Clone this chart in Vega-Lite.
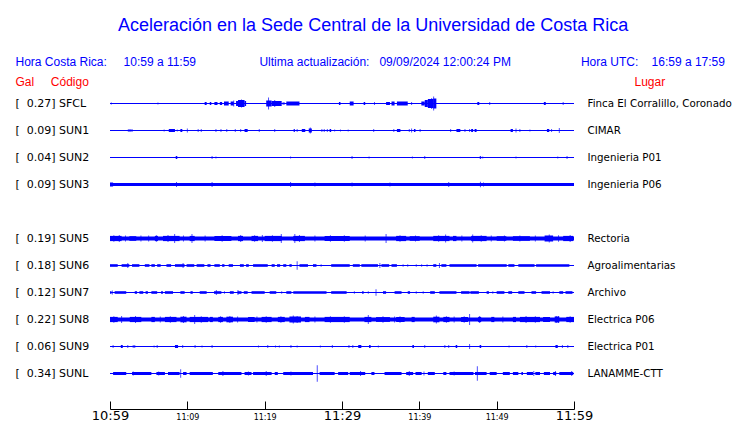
{
  "$schema": "https://vega.github.io/schema/vega-lite/v6.json",
  "autosize": "none",
  "padding": {"left": 110, "top": 90, "right": 166, "bottom": 36},
  "width": 464,
  "height": 297,
  "background": "white",
  "title": {
    "text": "Aceleración en la Sede Central de la Universidad de Costa Rica",
    "font": "Liberation Sans", "fontSize": 18, "fontWeight": "normal", "color": "#0000ff",
    "anchor": "middle", "frame": "bounds", "offset": 20
  },
  "config": {"view": {"stroke": null}},
  "datasets": {
    "seg": [
      {"s":"SFCL","t0":0,"t1":60,"a":0.5},
      {"s":"SUN1","t0":0,"t1":60,"a":0.5},
      {"s":"SUN2","t0":0,"t1":60,"a":0.5},
      {"s":"SUN3","t0":0,"t1":60,"a":1.5},
      {"s":"SUN5","t0":0,"t1":60,"a":2},
      {"s":"SUN6","t0":0,"t1":60,"a":0.5},
      {"s":"SUN7","t0":0,"t1":60,"a":0.5},
      {"s":"SUN8","t0":0,"t1":60,"a":2},
      {"s":"SUN9","t0":0,"t1":60,"a":0.5},
      {"s":"SUNL","t0":0,"t1":60,"a":0.5},

      {"s":"SFCL","t0":12.24,"t1":12.5,"a":1.5},
      {"s":"SFCL","t0":12.9,"t1":13.1,"a":1.5},
      {"s":"SFCL","t0":13.5,"t1":13.9,"a":1.5},
      {"s":"SFCL","t0":14.2,"t1":14.5,"a":1.5},
      {"s":"SFCL","t0":14.74,"t1":15.35,"a":2},
      {"s":"SFCL","t0":15.6,"t1":16.0,"a":2},
      {"s":"SFCL","t0":16.3,"t1":16.55,"a":2.5},
      {"s":"SFCL","t0":16.55,"t1":17.4,"a":3.5},
      {"s":"SFCL","t0":17.4,"t1":17.6,"a":2.5},
      {"s":"SFCL","t0":20.2,"t1":20.9,"a":3},
      {"s":"SFCL","t0":20.9,"t1":22.2,"a":2.5},
      {"s":"SFCL","t0":22.3,"t1":22.6,"a":1},
      {"s":"SFCL","t0":22.8,"t1":24.5,"a":2},
      {"s":"SFCL","t0":29.6,"t1":29.8,"a":1.5},
      {"s":"SFCL","t0":31.0,"t1":31.5,"a":2},
      {"s":"SFCL","t0":32.8,"t1":33.0,"a":1.5},
      {"s":"SFCL","t0":35.7,"t1":36.2,"a":1.5},
      {"s":"SFCL","t0":36.4,"t1":36.8,"a":2},
      {"s":"SFCL","t0":37.1,"t1":38.5,"a":2},
      {"s":"SFCL","t0":40.26,"t1":40.7,"a":2},
      {"s":"SFCL","t0":40.7,"t1":41.1,"a":3.5},
      {"s":"SFCL","t0":41.1,"t1":41.8,"a":4.5},
      {"s":"SFCL","t0":41.8,"t1":42.2,"a":5},
      {"s":"SFCL","t0":47.5,"t1":47.75,"a":1.5},
      {"s":"SFCL","t0":56.1,"t1":56.35,"a":1.5},

      {"s":"SUN1","t0":2.3,"t1":2.75,"a":1},
      {"s":"SUN1","t0":7.6,"t1":8.4,"a":1.5},
      {"s":"SUN1","t0":9.1,"t1":9.35,"a":1.5},
      {"s":"SUN1","t0":17.4,"t1":17.8,"a":1.5},
      {"s":"SUN1","t0":23.75,"t1":23.9,"a":1.5},
      {"s":"SUN1","t0":24.8,"t1":25.25,"a":1.5},
      {"s":"SUN1","t0":25.7,"t1":26.1,"a":2},
      {"s":"SUN1","t0":28.4,"t1":28.6,"a":1.5},
      {"s":"SUN1","t0":37.1,"t1":37.55,"a":1.5},
      {"s":"SUN1","t0":39.3,"t1":39.5,"a":1.5},
      {"s":"SUN1","t0":44.8,"t1":45.3,"a":1.5},
      {"s":"SUN1","t0":46.7,"t1":46.95,"a":1.5},
      {"s":"SUN1","t0":47.15,"t1":47.4,"a":1.5},
      {"s":"SUN1","t0":51.8,"t1":52.1,"a":1.5},
      {"s":"SUN1","t0":56.5,"t1":56.8,"a":1.5},

      {"s":"SUN2","t0":8.5,"t1":8.7,"a":1.5},
      {"s":"SUN2","t0":47.8,"t1":48.0,"a":1},

      {"s":"SUN3","t0":0,"t1":0.4,"a":2},

      {"s":"SUN5","t0":0,"t1":1.5,"a":2.6},
      {"s":"SUN5","t0":2.5,"t1":3.4,"a":2.3},
      {"s":"SUN5","t0":5.8,"t1":6.2,"a":2.6},
      {"s":"SUN5","t0":6.85,"t1":9.0,"a":2.6},
      {"s":"SUN5","t0":10.3,"t1":10.95,"a":2.6},
      {"s":"SUN5","t0":13.5,"t1":15.7,"a":2.5},
      {"s":"SUN5","t0":16.55,"t1":17.2,"a":2.6},
      {"s":"SUN5","t0":18.3,"t1":19.15,"a":2.6},
      {"s":"SUN5","t0":20.0,"t1":22.2,"a":2.6},
      {"s":"SUN5","t0":23.7,"t1":25.2,"a":2.6},
      {"s":"SUN5","t0":27.75,"t1":31.0,"a":2.5},
      {"s":"SUN5","t0":37.0,"t1":38.3,"a":2.6},
      {"s":"SUN5","t0":38.75,"t1":40.05,"a":2.3},
      {"s":"SUN5","t0":41.8,"t1":43.9,"a":2.6},
      {"s":"SUN5","t0":44.35,"t1":44.8,"a":2.6},
      {"s":"SUN5","t0":46.7,"t1":48.7,"a":2.6},
      {"s":"SUN5","t0":50.0,"t1":51.25,"a":2.3},
      {"s":"SUN5","t0":52.1,"t1":54.3,"a":2.3},
      {"s":"SUN5","t0":56.2,"t1":57.3,"a":3},
      {"s":"SUN5","t0":58.6,"t1":59.9,"a":2.6},

      {"s":"SUN6","t0":0,"t1":1.0,"a":1.3},
      {"s":"SUN6","t0":1.5,"t1":2.5,"a":1.3},
      {"s":"SUN6","t0":2.85,"t1":3.8,"a":1.3},
      {"s":"SUN6","t0":4.5,"t1":5.1,"a":1.3},
      {"s":"SUN6","t0":5.35,"t1":5.8,"a":1.3},
      {"s":"SUN6","t0":6.1,"t1":6.55,"a":1.3},
      {"s":"SUN6","t0":7.3,"t1":7.9,"a":1.3},
      {"s":"SUN6","t0":8.4,"t1":9.65,"a":1.3},
      {"s":"SUN6","t0":9.9,"t1":10.9,"a":1.3},
      {"s":"SUN6","t0":11.2,"t1":12.2,"a":1.3},
      {"s":"SUN6","t0":12.6,"t1":13.0,"a":1.3},
      {"s":"SUN6","t0":13.5,"t1":14.2,"a":1.3},
      {"s":"SUN6","t0":14.5,"t1":14.8,"a":1.3},
      {"s":"SUN6","t0":15.35,"t1":15.9,"a":1.3},
      {"s":"SUN6","t0":16.8,"t1":17.3,"a":1.3},
      {"s":"SUN6","t0":17.6,"t1":17.95,"a":1.3},
      {"s":"SUN6","t0":18.5,"t1":20.4,"a":1.3},
      {"s":"SUN6","t0":20.9,"t1":21.3,"a":1.3},
      {"s":"SUN6","t0":21.6,"t1":22.0,"a":1.3},
      {"s":"SUN6","t0":22.4,"t1":22.8,"a":1.3},
      {"s":"SUN6","t0":23.2,"t1":23.5,"a":1.3},
      {"s":"SUN6","t0":24.5,"t1":25.6,"a":1.3},
      {"s":"SUN6","t0":26.25,"t1":26.7,"a":1.3},
      {"s":"SUN6","t0":28.6,"t1":31.0,"a":1.3},
      {"s":"SUN6","t0":31.4,"t1":32.3,"a":1.3},
      {"s":"SUN6","t0":32.5,"t1":34.65,"a":1.3},
      {"s":"SUN6","t0":35.1,"t1":36.1,"a":1.3},
      {"s":"SUN6","t0":36.4,"t1":37.1,"a":1.3},
      {"s":"SUN6","t0":41.8,"t1":42.2,"a":1.3},
      {"s":"SUN6","t0":42.85,"t1":43.5,"a":1.3},
      {"s":"SUN6","t0":43.9,"t1":47.4,"a":1.3},
      {"s":"SUN6","t0":47.6,"t1":51.3,"a":1.3},
      {"s":"SUN6","t0":51.5,"t1":52.3,"a":1.3},
      {"s":"SUN6","t0":52.8,"t1":54.9,"a":1.3},
      {"s":"SUN6","t0":55.1,"t1":59.4,"a":1.3},

      {"s":"SUN7","t0":0,"t1":0.2,"a":1.3},
      {"s":"SUN7","t0":0.6,"t1":2.1,"a":1.3},
      {"s":"SUN7","t0":3.2,"t1":3.5,"a":1.3},
      {"s":"SUN7","t0":3.8,"t1":4.3,"a":1.3},
      {"s":"SUN7","t0":4.6,"t1":4.9,"a":1.3},
      {"s":"SUN7","t0":5.35,"t1":6.1,"a":1.3},
      {"s":"SUN7","t0":6.6,"t1":6.85,"a":1.3},
      {"s":"SUN7","t0":7.1,"t1":8.15,"a":1.3},
      {"s":"SUN7","t0":9.1,"t1":9.65,"a":1.3},
      {"s":"SUN7","t0":10.4,"t1":10.7,"a":1.3},
      {"s":"SUN7","t0":11.6,"t1":12.5,"a":1.3},
      {"s":"SUN7","t0":13.45,"t1":14.4,"a":1.3},
      {"s":"SUN7","t0":15.5,"t1":16.0,"a":1.3},
      {"s":"SUN7","t0":16.5,"t1":17.0,"a":1.3},
      {"s":"SUN7","t0":17.3,"t1":17.8,"a":1.3},
      {"s":"SUN7","t0":18.3,"t1":20.0,"a":1.3},
      {"s":"SUN7","t0":20.65,"t1":21.5,"a":1.3},
      {"s":"SUN7","t0":22.8,"t1":23.45,"a":1.3},
      {"s":"SUN7","t0":23.7,"t1":28.0,"a":1.3},
      {"s":"SUN7","t0":28.6,"t1":30.6,"a":1.3},
      {"s":"SUN7","t0":32.6,"t1":32.8,"a":1.3},
      {"s":"SUN7","t0":35.3,"t1":35.7,"a":1.3},
      {"s":"SUN7","t0":36.8,"t1":37.7,"a":1.3},
      {"s":"SUN7","t0":38.5,"t1":38.8,"a":1.3},
      {"s":"SUN7","t0":41.4,"t1":42.0,"a":1.3},
      {"s":"SUN7","t0":42.6,"t1":44.8,"a":1.3},
      {"s":"SUN7","t0":45.4,"t1":46.5,"a":1.3},
      {"s":"SUN7","t0":46.6,"t1":47.7,"a":1.3},
      {"s":"SUN7","t0":48.7,"t1":49.0,"a":1.3},
      {"s":"SUN7","t0":50.0,"t1":51.0,"a":1.3},
      {"s":"SUN7","t0":51.5,"t1":52.0,"a":1.3},
      {"s":"SUN7","t0":52.8,"t1":53.6,"a":1.3},
      {"s":"SUN7","t0":54.5,"t1":55.1,"a":1.3},
      {"s":"SUN7","t0":55.8,"t1":56.9,"a":1.3},
      {"s":"SUN7","t0":58.1,"t1":58.6,"a":1.3},
      {"s":"SUN7","t0":58.9,"t1":59.8,"a":1.3},

      {"s":"SUN8","t0":0,"t1":1.0,"a":2.6},
      {"s":"SUN8","t0":2.55,"t1":4.05,"a":2.6},
      {"s":"SUN8","t0":5.35,"t1":5.8,"a":2.6},
      {"s":"SUN8","t0":7.1,"t1":8.6,"a":2.6},
      {"s":"SUN8","t0":9.1,"t1":9.9,"a":2.8},
      {"s":"SUN8","t0":10.3,"t1":12.7,"a":2.6},
      {"s":"SUN8","t0":12.9,"t1":13.3,"a":2.6},
      {"s":"SUN8","t0":14.0,"t1":14.6,"a":2.6},
      {"s":"SUN8","t0":15.05,"t1":15.9,"a":2.8},
      {"s":"SUN8","t0":17.85,"t1":18.7,"a":2.5},
      {"s":"SUN8","t0":19.6,"t1":20.9,"a":2.6},
      {"s":"SUN8","t0":21.7,"t1":22.6,"a":2.6},
      {"s":"SUN8","t0":23.2,"t1":24.7,"a":3},
      {"s":"SUN8","t0":25.2,"t1":25.8,"a":2.6},
      {"s":"SUN8","t0":27.75,"t1":31.0,"a":2.6},
      {"s":"SUN8","t0":32.9,"t1":33.8,"a":2.6},
      {"s":"SUN8","t0":34.4,"t1":36.2,"a":2.4},
      {"s":"SUN8","t0":37.0,"t1":38.1,"a":2.5},
      {"s":"SUN8","t0":39.0,"t1":39.4,"a":2.6},
      {"s":"SUN8","t0":41.8,"t1":42.6,"a":2.8},
      {"s":"SUN8","t0":43.1,"t1":43.9,"a":2.6},
      {"s":"SUN8","t0":45.4,"t1":46.3,"a":2.5},
      {"s":"SUN8","t0":47.6,"t1":48.0,"a":2.6},
      {"s":"SUN8","t0":49.3,"t1":49.7,"a":2.6},
      {"s":"SUN8","t0":52.1,"t1":52.5,"a":2.6},
      {"s":"SUN8","t0":53.0,"t1":55.6,"a":2.6},
      {"s":"SUN8","t0":56.0,"t1":56.9,"a":2.5},
      {"s":"SUN8","t0":57.5,"t1":58.1,"a":3},
      {"s":"SUN8","t0":59.0,"t1":60.0,"a":2.6},

      {"s":"SUN9","t0":1.4,"t1":1.65,"a":1.5},
      {"s":"SUN9","t0":8.4,"t1":8.8,"a":1.5},
      {"s":"SUN9","t0":32.1,"t1":32.5,"a":1.5},
      {"s":"SUN9","t0":33.5,"t1":33.7,"a":1.5},
      {"s":"SUN9","t0":39.1,"t1":39.3,"a":1.5},
      {"s":"SUN9","t0":44.7,"t1":44.9,"a":1.5},
      {"s":"SUN9","t0":47.8,"t1":48.0,"a":1.5},
      {"s":"SUN9","t0":57.6,"t1":57.9,"a":1.5},

      {"s":"SUNL","t0":0.4,"t1":2.1,"a":1.5},
      {"s":"SUNL","t0":2.85,"t1":5.35,"a":1.5},
      {"s":"SUNL","t0":6.0,"t1":7.1,"a":1.5},
      {"s":"SUNL","t0":7.5,"t1":9.0,"a":1.5},
      {"s":"SUNL","t0":9.45,"t1":9.9,"a":1.5},
      {"s":"SUNL","t0":10.3,"t1":13.3,"a":1.5},
      {"s":"SUNL","t0":14.0,"t1":17.0,"a":1.5},
      {"s":"SUNL","t0":17.4,"t1":18.3,"a":1.5},
      {"s":"SUNL","t0":18.5,"t1":20.9,"a":1.5},
      {"s":"SUNL","t0":21.3,"t1":21.7,"a":1.5},
      {"s":"SUNL","t0":22.4,"t1":26.25,"a":1.5},
      {"s":"SUNL","t0":27.1,"t1":29.05,"a":1.5},
      {"s":"SUNL","t0":29.5,"t1":30.8,"a":1.5},
      {"s":"SUNL","t0":31.0,"t1":33.0,"a":1.5},
      {"s":"SUNL","t0":33.8,"t1":34.2,"a":1.5},
      {"s":"SUNL","t0":35.5,"t1":37.7,"a":1.5},
      {"s":"SUNL","t0":38.3,"t1":39.2,"a":1.5},
      {"s":"SUNL","t0":39.5,"t1":40.3,"a":1.5},
      {"s":"SUNL","t0":41.1,"t1":42.0,"a":1.5},
      {"s":"SUNL","t0":43.1,"t1":43.5,"a":1.5},
      {"s":"SUNL","t0":43.9,"t1":47.0,"a":1.5},
      {"s":"SUNL","t0":47.2,"t1":48.7,"a":1.5},
      {"s":"SUNL","t0":49.1,"t1":50.0,"a":1.5},
      {"s":"SUNL","t0":50.8,"t1":51.7,"a":1.5},
      {"s":"SUNL","t0":52.1,"t1":52.8,"a":1.5},
      {"s":"SUNL","t0":53.2,"t1":53.4,"a":1.5},
      {"s":"SUNL","t0":53.9,"t1":54.7,"a":1.5},
      {"s":"SUNL","t0":55.0,"t1":55.6,"a":1.5},
      {"s":"SUNL","t0":56.1,"t1":56.9,"a":1.5},
      {"s":"SUNL","t0":57.3,"t1":57.7,"a":1.5},
      {"s":"SUNL","t0":58.1,"t1":59.9,"a":1.5}
    ],
    "spk": [
      {"s":"SFCL","t":0.17,"a":1},{"s":"SFCL","t":6.2,"a":1},{"s":"SFCL","t":16.0,"a":3},{"s":"SFCL","t":17.0,"a":4},
      {"s":"SFCL","t":20.5,"a":6},{"s":"SFCL","t":21.3,"a":3.5},{"s":"SFCL","t":34.2,"a":1.5},{"s":"SFCL","t":39.0,"a":1.5},
      {"s":"SFCL","t":41.85,"a":7},{"s":"SFCL","t":41.6,"a":5.5},{"s":"SFCL","t":49.1,"a":1.5},{"s":"SFCL","t":58.6,"a":1.5},

      {"s":"SUN1","t":2.85,"a":1.5},{"s":"SUN1","t":7.0,"a":1},{"s":"SUN1","t":8.7,"a":1},{"s":"SUN1","t":10.0,"a":2},
      {"s":"SUN1","t":11.4,"a":1.5},{"s":"SUN1","t":11.8,"a":1.5},{"s":"SUN1","t":13.7,"a":1.5},{"s":"SUN1","t":14.35,"a":1.5},
      {"s":"SUN1","t":15.1,"a":1.5},{"s":"SUN1","t":16.2,"a":1.5},{"s":"SUN1","t":16.9,"a":1.5},{"s":"SUN1","t":19.3,"a":1.5},
      {"s":"SUN1","t":21.3,"a":1.5},{"s":"SUN1","t":24.2,"a":1.5},{"s":"SUN1","t":25.9,"a":3},{"s":"SUN1","t":27.4,"a":1.5},
      {"s":"SUN1","t":27.7,"a":1.5},{"s":"SUN1","t":28.1,"a":1.5},{"s":"SUN1","t":29.05,"a":1},{"s":"SUN1","t":29.8,"a":1},
      {"s":"SUN1","t":30.8,"a":1},{"s":"SUN1","t":34.1,"a":1.5},{"s":"SUN1","t":36.7,"a":1.5},{"s":"SUN1","t":38.7,"a":1.5},
      {"s":"SUN1","t":39.0,"a":2},{"s":"SUN1","t":40.1,"a":1.5},{"s":"SUN1","t":44.05,"a":1.5},{"s":"SUN1","t":45.9,"a":1.5},
      {"s":"SUN1","t":46.5,"a":1.5},{"s":"SUN1","t":52.5,"a":2},{"s":"SUN1","t":53.0,"a":1.5},{"s":"SUN1","t":54.3,"a":1},
      {"s":"SUN1","t":57.1,"a":1.5},{"s":"SUN1","t":58.1,"a":2.5},

      {"s":"SUN2","t":13.2,"a":1.5},{"s":"SUN2","t":13.7,"a":1},{"s":"SUN2","t":23.35,"a":1},{"s":"SUN2","t":31.3,"a":1.5},
      {"s":"SUN2","t":33.5,"a":1},{"s":"SUN2","t":39.1,"a":1},{"s":"SUN2","t":40.7,"a":1.5},{"s":"SUN2","t":47.9,"a":1.5},
      {"s":"SUN2","t":48.2,"a":1},{"s":"SUN2","t":52.5,"a":1},{"s":"SUN2","t":57.9,"a":1},{"s":"SUN2","t":59.1,"a":1.5},

      {"s":"SUN3","t":8.6,"a":2.5},{"s":"SUN3","t":13.2,"a":2.5},{"s":"SUN3","t":23.35,"a":2.5},{"s":"SUN3","t":26.5,"a":2},
      {"s":"SUN3","t":31.3,"a":2},{"s":"SUN3","t":36.2,"a":2},{"s":"SUN3","t":43.8,"a":2.5},{"s":"SUN3","t":47.9,"a":2.7},
      {"s":"SUN3","t":48.3,"a":2},

      {"s":"SUN5","t":1.2,"a":3.5},{"s":"SUN5","t":4.0,"a":3},{"s":"SUN5","t":5.0,"a":3},{"s":"SUN5","t":8.36,"a":4.5},
      {"s":"SUN5","t":10.6,"a":4.5},{"s":"SUN5","t":12.3,"a":3},{"s":"SUN5","t":19.7,"a":3.5},{"s":"SUN5","t":22.15,"a":4.5},
      {"s":"SUN5","t":23.9,"a":4.5},{"s":"SUN5","t":26.5,"a":3},{"s":"SUN5","t":33.0,"a":3},{"s":"SUN5","t":35.7,"a":4.5},
      {"s":"SUN5","t":43.4,"a":4},{"s":"SUN5","t":45.5,"a":3},{"s":"SUN5","t":46.9,"a":4},{"s":"SUN5","t":49.3,"a":3},
      {"s":"SUN5","t":55.0,"a":3},{"s":"SUN5","t":56.8,"a":4},
      {"s":"SUN5","t":0.5,"a":3.3},{"s":"SUN5","t":2.0,"a":3},{"s":"SUN5","t":6.0,"a":3.3},{"s":"SUN5","t":7.5,"a":3.5},
      {"s":"SUN5","t":9.5,"a":3},{"s":"SUN5","t":14.5,"a":3.3},{"s":"SUN5","t":16.9,"a":3.5},{"s":"SUN5","t":18.7,"a":3.3},
      {"s":"SUN5","t":21.0,"a":3.3},{"s":"SUN5","t":24.5,"a":3.5},{"s":"SUN5","t":28.5,"a":3.3},{"s":"SUN5","t":30.3,"a":3.3},
      {"s":"SUN5","t":37.5,"a":3.3},{"s":"SUN5","t":39.5,"a":3},{"s":"SUN5","t":42.5,"a":3.3},{"s":"SUN5","t":48.0,"a":3.3},
      {"s":"SUN5","t":51.0,"a":3},{"s":"SUN5","t":53.0,"a":3},{"s":"SUN5","t":58.0,"a":3.3},{"s":"SUN5","t":59.5,"a":3.5},

      {"s":"SUN6","t":2.3,"a":2.5},{"s":"SUN6","t":9.45,"a":2.5},{"s":"SUN6","t":24.2,"a":4.3},{"s":"SUN6","t":34.9,"a":2.5},
      {"s":"SUN6","t":42.6,"a":2.5},{"s":"SUN6","t":27.3,"a":1.3},{"s":"SUN6","t":37.9,"a":1.3},{"s":"SUN6","t":38.5,"a":1.3},
      {"s":"SUN6","t":39.6,"a":1.3},{"s":"SUN6","t":40.3,"a":1.3},{"s":"SUN6","t":41.0,"a":1.3},

      {"s":"SUN7","t":0.3,"a":2},{"s":"SUN7","t":13.75,"a":2.5},{"s":"SUN7","t":16.55,"a":2.5},{"s":"SUN7","t":22.2,"a":1.3},
      {"s":"SUN7","t":14.8,"a":1.3},{"s":"SUN7","t":31.6,"a":1.3},{"s":"SUN7","t":33.4,"a":1.3},{"s":"SUN7","t":34.4,"a":3.3},
      {"s":"SUN7","t":39.6,"a":1.3},{"s":"SUN7","t":40.5,"a":1.3},{"s":"SUN7","t":49.5,"a":1.3},{"s":"SUN7","t":57.3,"a":1.3},

      {"s":"SUN8","t":1.5,"a":3.5},{"s":"SUN8","t":6.5,"a":3},{"s":"SUN8","t":10.95,"a":4.5},{"s":"SUN8","t":16.5,"a":3},
      {"s":"SUN8","t":19.0,"a":3},{"s":"SUN8","t":23.7,"a":4},{"s":"SUN8","t":26.5,"a":3},{"s":"SUN8","t":33.4,"a":4.5},
      {"s":"SUN8","t":36.8,"a":3},{"s":"SUN8","t":42.2,"a":4},{"s":"SUN8","t":44.5,"a":3},{"s":"SUN8","t":46.5,"a":5.5},
      {"s":"SUN8","t":47.8,"a":3.5},{"s":"SUN8","t":50.8,"a":3},{"s":"SUN8","t":57.7,"a":3.5},
      {"s":"SUN8","t":0.5,"a":3.3},{"s":"SUN8","t":3.3,"a":3.5},{"s":"SUN8","t":7.8,"a":3.3},{"s":"SUN8","t":9.5,"a":3.5},
      {"s":"SUN8","t":11.8,"a":3.3},{"s":"SUN8","t":14.3,"a":3.3},{"s":"SUN8","t":15.5,"a":3.5},{"s":"SUN8","t":20.2,"a":3.3},
      {"s":"SUN8","t":22.1,"a":3.3},{"s":"SUN8","t":24.2,"a":3.5},{"s":"SUN8","t":28.5,"a":3.3},{"s":"SUN8","t":30.3,"a":3.3},
      {"s":"SUN8","t":35.3,"a":3.3},{"s":"SUN8","t":37.5,"a":3.3},{"s":"SUN8","t":43.5,"a":3.3},{"s":"SUN8","t":45.8,"a":3.3},
      {"s":"SUN8","t":53.8,"a":3.5},{"s":"SUN8","t":55.0,"a":3.3},{"s":"SUN8","t":58.0,"a":3.5},{"s":"SUN8","t":59.5,"a":3.3},

      {"s":"SUN9","t":0.4,"a":1.5},{"s":"SUN9","t":2.3,"a":1.5},{"s":"SUN9","t":3.0,"a":1.5},{"s":"SUN9","t":3.2,"a":1.5},
      {"s":"SUN9","t":5.7,"a":1},{"s":"SUN9","t":6.1,"a":1.5},{"s":"SUN9","t":9.4,"a":1.5},{"s":"SUN9","t":11.0,"a":1.5},
      {"s":"SUN9","t":11.9,"a":1},{"s":"SUN9","t":13.2,"a":1.5},{"s":"SUN9","t":19.2,"a":1},{"s":"SUN9","t":20.4,"a":1.5},
      {"s":"SUN9","t":21.4,"a":1},{"s":"SUN9","t":21.9,"a":1},{"s":"SUN9","t":23.4,"a":1.5},{"s":"SUN9","t":24.2,"a":1},
      {"s":"SUN9","t":27.2,"a":1},{"s":"SUN9","t":28.75,"a":1.5},{"s":"SUN9","t":30.9,"a":1.5},{"s":"SUN9","t":31.4,"a":1.5},
      {"s":"SUN9","t":34.7,"a":1},{"s":"SUN9","t":40.7,"a":1.5},{"s":"SUN9","t":43.3,"a":1.5},{"s":"SUN9","t":43.8,"a":1.5},
      {"s":"SUN9","t":46.5,"a":2.5},{"s":"SUN9","t":51.6,"a":1},{"s":"SUN9","t":53.9,"a":1.5},{"s":"SUN9","t":55.05,"a":1},
      {"s":"SUN9","t":58.5,"a":1.5},{"s":"SUN9","t":59.2,"a":1.5},

      {"s":"SUNL","t":9.14,"a":4.3},{"s":"SUNL","t":14.6,"a":2.5},{"s":"SUNL","t":26.8,"a":8.3},{"s":"SUNL","t":32.4,"a":2.5},
      {"s":"SUNL","t":38.7,"a":2.5},{"s":"SUNL","t":47.5,"a":7.2},{"s":"SUNL","t":54.8,"a":2.5},{"s":"SUNL","t":57.6,"a":2.5},
      {"s":"SUNL","t":59.7,"a":2.5},{"s":"SUNL","t":3.0,"a":2},{"s":"SUNL","t":6.3,"a":2},{"s":"SUNL","t":17.9,"a":2},
      {"s":"SUNL","t":20.2,"a":2.5},{"s":"SUNL","t":23.4,"a":2},{"s":"SUNL","t":40.6,"a":2},{"s":"SUNL","t":44.5,"a":2}
    ]
  },
  "resolve": {"axis": {"y": "independent"}},
  "layer": [
    {
      "data": {"name": "seg"},
      "mark": {"type": "rule", "color": "#0000ff", "strokeCap": "butt"},
      "encoding": {
        "x": {
          "field": "t0", "type": "quantitative",
          "scale": {"domain": [0, 60], "nice": false, "zero": false},
          "axis": {
            "orient": "bottom", "offset": 22, "grid": false,
            "values": [0, 5, 10, 15, 20, 25, 30, 35, 40, 45, 50, 55, 60],
            "tickSize": -8, "tickColor": "black", "domainColor": "black",
            "labelExpr": "datum.value % 10 == 0 ? ['10:59','11:09','11:19','11:29','11:39','11:49','11:59'][datum.value / 10] : ''",
            "labelFont": "DejaVu Sans", "labelColor": "black",
            "labelFontSize": {"condition": {"test": "datum.value % 30 == 0", "value": 13}, "value": 8},
            "labelBaseline": "alphabetic", "labelPadding": 18,
            "labelFlush": false, "labelOverlap": false,
            "title": "Hora Costa Rica:\u00a0\u00a0\u00a0\u00a0\u00a010:59 a 11:59\u00a0\u00a0\u00a0\u00a0\u00a0\u00a0\u00a0\u00a0\u00a0\u00a0\u00a0\u00a0\u00a0\u00a0\u00a0\u00a0\u00a0\u00a0\u00a0Ultima actualización:\u00a0\u00a0\u00a009/09/2024 12:00:24 PM\u00a0\u00a0\u00a0\u00a0\u00a0\u00a0\u00a0\u00a0\u00a0\u00a0\u00a0\u00a0\u00a0\u00a0\u00a0\u00a0\u00a0\u00a0\u00a0\u00a0\u00a0Hora UTC:\u00a0\u00a0\u00a0\u00a016:59 a 17:59",
            "titleFont": "Liberation Sans", "titleFontSize": 12, "titleFontWeight": "normal",
            "titleColor": "#0000ff", "titleAlign": "left", "titleBaseline": "middle",
            "titleX": -95, "titleY": -348
          }
        },
        "x2": {"field": "t1"},
        "y": {
          "field": "s", "type": "nominal",
          "scale": {"type": "point", "padding": 0.5,
            "domain": ["SFCL","SUN1","SUN2","SUN3","SUN4","SUN5","SUN6","SUN7","SUN8","SUN9","SUNL"]},
          "axis": {
            "orient": "left", "ticks": false, "domain": false, "grid": false,
            "labelAlign": "left", "labelPadding": 95, "labelBaseline": "middle",
            "labelFont": "DejaVu Sans", "labelFontSize": 11, "labelColor": "black", "labelOverlap": false,
            "labelExpr": "['[\u00a0\u00a00.27] SFCL','[\u00a0\u00a00.09] SUN1','[\u00a0\u00a00.04] SUN2','[\u00a0\u00a00.09] SUN3','','[\u00a0\u00a00.19] SUN5','[\u00a0\u00a00.18] SUN6','[\u00a0\u00a00.12] SUN7','[\u00a0\u00a00.22] SUN8','[\u00a0\u00a00.06] SUN9','[\u00a0\u00a00.34] SUNL'][indexof(['SFCL','SUN1','SUN2','SUN3','SUN4','SUN5','SUN6','SUN7','SUN8','SUN9','SUNL'], datum.value)]",
            "title": "Gal\u00a0\u00a0\u00a0\u00a0\u00a0Código",
            "titleFont": "Liberation Sans", "titleFontSize": 12, "titleFontWeight": "normal",
            "titleColor": "#ff0000", "titleAngle": 0, "titleAlign": "left", "titleBaseline": "middle",
            "titleX": -95, "titleY": -9
          }
        },
        "strokeWidth": {"field": "a", "type": "quantitative", "scale": {"domain": [0, 10], "range": [0, 20]}, "legend": null}
      }
    },
    {
      "data": {"name": "spk"},
      "mark": {"type": "tick", "orient": "vertical", "thickness": 1, "color": "#0000ff"},
      "encoding": {
        "x": {"field": "t", "type": "quantitative"},
        "y": {
          "field": "s", "type": "nominal",
          "axis": {
            "orient": "right", "ticks": false, "domain": false, "grid": false,
            "labelAlign": "left", "labelPadding": 13, "labelBaseline": "middle",
            "labelFont": "DejaVu Sans", "labelFontSize": 10.3, "labelColor": "black", "labelOverlap": false, "labelLimit": 300,
            "labelExpr": "['Finca El Corralillo, Coronado','CIMAR','Ingenieria P01','Ingenieria P06','','Rectoria','Agroalimentarias','Archivo','Electrica P06','Electrica P01','LANAMME-CTT'][indexof(['SFCL','SUN1','SUN2','SUN3','SUN4','SUN5','SUN6','SUN7','SUN8','SUN9','SUNL'], datum.value)]",
            "title": "Lugar",
            "titleFont": "Liberation Sans", "titleFontSize": 12, "titleFontWeight": "normal",
            "titleColor": "#ff0000", "titleAngle": 0, "titleAlign": "left", "titleBaseline": "middle",
            "titleX": 60, "titleY": -9
          }
        },
        "size": {"field": "a", "type": "quantitative", "scale": {"domain": [0, 10], "range": [0, 20]}, "legend": null}
      }
    }
  ]
}
